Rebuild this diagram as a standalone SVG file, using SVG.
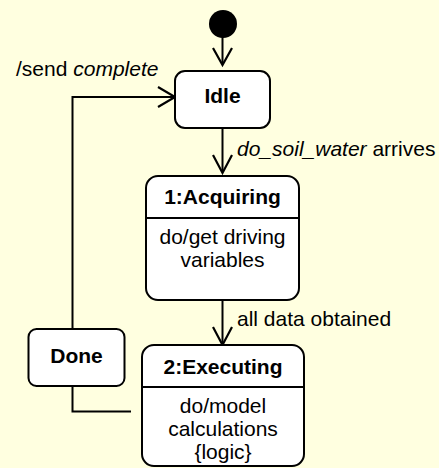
<svg xmlns="http://www.w3.org/2000/svg" width="439" height="468" viewBox="0 0 439 468">
  <style>
    .state { fill: #ffffff; stroke: #000000; stroke-width: 2; }
    .div { stroke: #000000; stroke-width: 2; }
    .edge { fill: none; stroke: #000000; stroke-width: 2; }
    .head { fill: none; stroke: #000000; stroke-width: 2.2; stroke-linejoin: miter; }
    text { font-family: "Liberation Sans", Arial, sans-serif; font-size: 21px; fill: #000000; }
    .title { font-weight: bold; text-anchor: middle; }
    .body { text-anchor: middle; }
    .it { font-style: italic; }
  </style>
  <rect x="0" y="0" width="439" height="468" fill="#ffffe0"/>

  <!-- initial pseudostate -->
  <g id="initial">
    <circle cx="223" cy="24" r="14" fill="#000000"/>
  </g>

  <!-- transitions -->
  <g id="connectors">
    <line class="edge" x1="222.5" y1="37" x2="222.5" y2="64"/>
    <polyline class="head" points="213,48 222.5,65 232,48"/>

    <line class="edge" x1="222.5" y1="128" x2="222.5" y2="172"/>
    <polyline class="head" points="213,155 222.5,173 232,155"/>

    <line class="edge" x1="222.5" y1="300" x2="222.5" y2="344"/>
    <polyline class="head" points="213,327 222.5,345 232,327"/>

    <polyline class="edge" points="72.5,329 72.5,97 174,97"/>
    <polyline class="head" points="158,87 175,97 158,107"/>

    <polyline class="edge" points="72.5,386 72.5,411.5 131,411.5"/>

    <text x="16" y="76">/send <tspan class="it">complete</tspan></text>
    <text x="237" y="156"><tspan class="it">do_soil_water</tspan> arrives</text>
    <text x="237" y="326">all data obtained</text>
  </g>

  <g id="idle">
    <rect class="state" x="175" y="71" width="95" height="57" rx="10"/>
    <text class="title" x="222.5" y="103">Idle</text>
  </g>

  <g id="acquiring">
    <rect class="state" x="146" y="176" width="153" height="124" rx="12"/>
    <line class="div" x1="146" y1="218" x2="299" y2="218"/>
    <text class="title" x="222.5" y="204">1:Acquiring</text>
    <text class="body" x="222.5" y="244">do/get driving</text>
    <text class="body" x="222.5" y="267">variables</text>
  </g>

  <g id="executing">
    <rect class="state" x="142" y="345" width="162" height="121" rx="12"/>
    <line class="div" x1="142" y1="387" x2="304" y2="387"/>
    <text class="title" x="223" y="374">2:Executing</text>
    <text class="body" x="223" y="413">do/model</text>
    <text class="body" x="223" y="436">calculations</text>
    <text class="body" x="223" y="459">{logic}</text>
  </g>

  <g id="done">
    <rect class="state" x="28.5" y="329" width="96" height="57" rx="8"/>
    <text class="title" x="76.5" y="363">Done</text>
  </g>
</svg>
